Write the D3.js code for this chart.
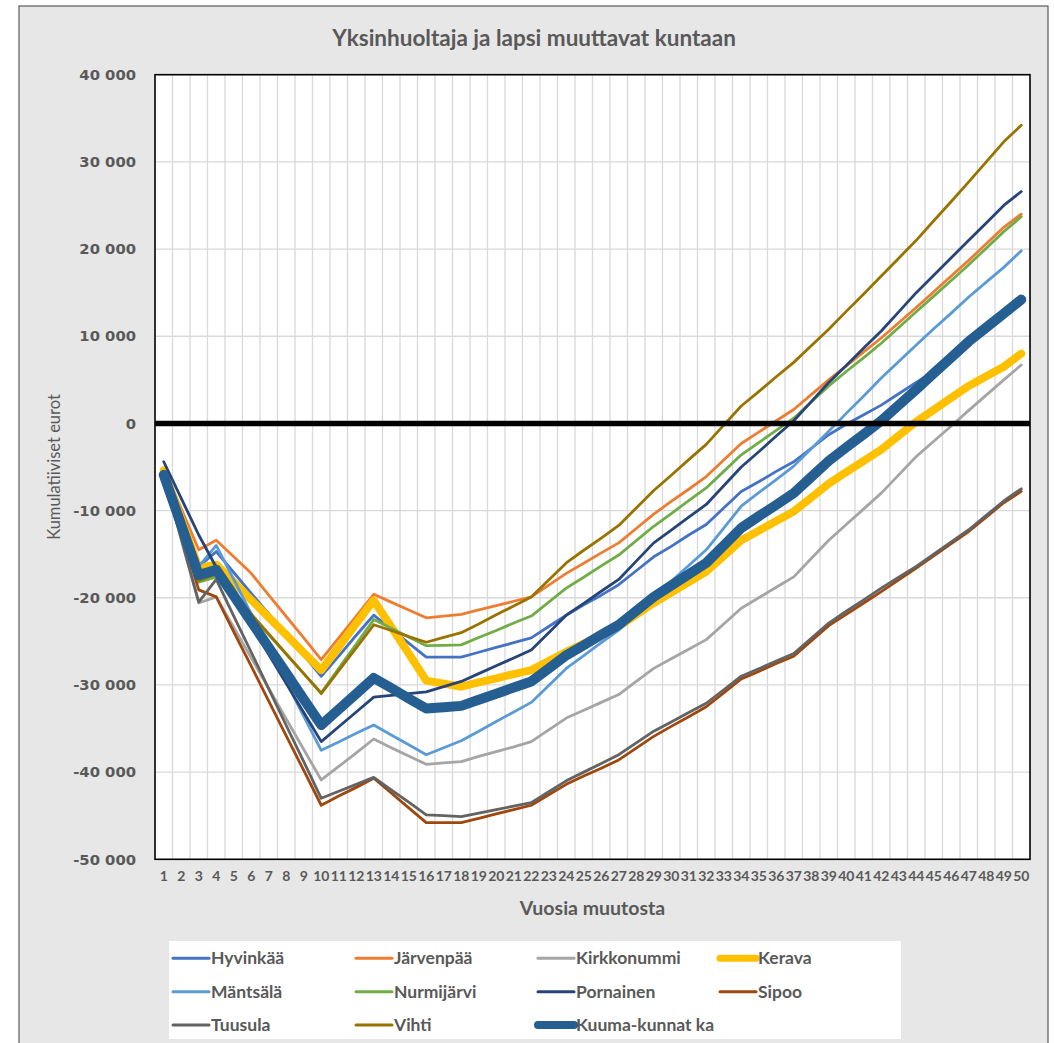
<!DOCTYPE html>
<html>
<head>
<meta charset="utf-8">
<script src="https://cdn.jsdelivr.net/npm/d3@7/dist/d3.min.js"></script>
<style>
  html, body { margin: 0; padding: 0; background: #ffffff; }
  svg { display: block; }
</style>
</head>
<body>
<svg id="chart" width="1054" height="1043"></svg>
<script>
// ---------------- DATA ----------------
const years = d3.range(1, 51);
const yTicks = [40000, 30000, 20000, 10000, 0, -10000, -20000, -30000, -40000, -50000];
const chartTitle = "Yksinhuoltaja ja lapsi muuttavat kuntaan";
const xTitle = "Vuosia muutosta";
const yTitle = "Kumulatiiviset eurot";

const seriesNames = ["Hyvinkää", "Järvenpää", "Kirkkonummi", "Kerava", "Mäntsälä", "Nurmijärvi", "Pornainen", "Sipoo", "Tuusula", "Vihti", "Kuuma-kunnat ka"];

const hyvinkaa = [-5800,-11100,-16400,-14700,-17100,-19500,-21850,-24200,-26600,-29000,
  -26700,-24300,-22000,-23600,-25200,-26800,-26800,-26800,-26250,-25700,
  -25150,-24600,-23300,-22000,-20800,-19700,-18500,-16900,-15300,-14100,
  -12800,-11600,-9700,-7800,-6700,-5500,-4400,-2850,-1300,-100,
  1000,2100,3400,4700,6000,7700,9400,11000,12600,14000];
const jarvenpaa = [-5100,-9800,-14500,-13400,-15300,-17200,-19700,-22150,-24600,-27100,
  -24600,-22100,-19600,-20500,-21400,-22300,-22100,-21900,-21400,-20900,
  -20400,-19900,-18550,-17200,-16050,-14850,-13700,-12050,-10400,-8950,
  -7550,-6100,-4200,-2300,-1000,300,1600,3300,5000,6600,
  8200,9800,11550,13300,15100,16900,18700,20600,22500,24000];
const kirkkonummi = [-6000,-13300,-20600,-19900,-23400,-26900,-30400,-33900,-37400,-40900,
  -39350,-37800,-36200,-37200,-38150,-39100,-38950,-38800,-38200,-37650,
  -37100,-36500,-35150,-33800,-32900,-32000,-31100,-29600,-28100,-27000,
  -25900,-24800,-23000,-21200,-20000,-18800,-17600,-15500,-13400,-11600,
  -9800,-8000,-5900,-3800,-2050,-300,1500,3250,5000,6700];
const kerava = [-5400,-11000,-16600,-16200,-18200,-20250,-22250,-24250,-26300,-28300,
  -25650,-22950,-20300,-23350,-26400,-29500,-29850,-30200,-29700,-29250,
  -28750,-28300,-27250,-26200,-25250,-24250,-23300,-21950,-20600,-19400,
  -18200,-17000,-15200,-13400,-12300,-11200,-10100,-8500,-6900,-5600,
  -4300,-3000,-1400,200,1550,2950,4300,5400,6500,8000];
const mantsala = [-6000,-11200,-16400,-14000,-17900,-21850,-25750,-29650,-33600,-37500,
  -36550,-35550,-34600,-35750,-36850,-38000,-37200,-36400,-35300,-34200,
  -33100,-32000,-30050,-28100,-26650,-25150,-23700,-21800,-19900,-18100,
  -16300,-14500,-12000,-9500,-7950,-6450,-4900,-2900,-900,1150,
  3150,5200,7100,9000,10850,12650,14500,16200,17900,19800];
const nurmijarvi = [-5800,-12000,-18200,-17600,-19800,-22050,-24250,-26450,-28700,-30900,
  -28100,-25300,-22500,-23500,-24500,-25500,-25450,-25400,-24550,-23750,
  -22900,-22100,-20500,-18900,-17650,-16350,-15100,-13450,-11800,-10350,
  -8850,-7400,-5500,-3600,-2200,-800,600,2450,4300,5950,
  7550,9200,11000,12800,14600,16400,18200,20100,22000,23700];
const pornainen = [-4400,-8600,-12800,-16500,-19850,-23150,-26500,-29850,-33150,-36500,
  -34800,-33100,-31400,-31200,-31000,-30800,-30200,-29600,-28700,-27800,
  -26900,-26000,-24000,-22000,-20650,-19250,-17900,-15800,-13700,-12250,
  -10750,-9300,-7150,-5000,-3250,-1450,300,2500,4700,6650,
  8650,10600,12800,15000,17000,19000,21000,23000,25000,26600];
const sipoo = [-6000,-12550,-19100,-19900,-23900,-27850,-31850,-35850,-39800,-43800,
  -42750,-41750,-40700,-42400,-44100,-45800,-45800,-45800,-45300,-44800,
  -44300,-43800,-42600,-41400,-40450,-39550,-38600,-37250,-35900,-34750,
  -33650,-32500,-30900,-29300,-28450,-27550,-26700,-24950,-23200,-21900,
  -20600,-19300,-17950,-16600,-15200,-13800,-12400,-10750,-9100,-7800];
const tuusula = [-6000,-13250,-20500,-17900,-22100,-26250,-30450,-34650,-38800,-43000,
  -42200,-41400,-40600,-42050,-43450,-44900,-45000,-45100,-44700,-44300,
  -43900,-43500,-42250,-41000,-40000,-39000,-38000,-36650,-35300,-34250,
  -33150,-32100,-30550,-29000,-28150,-27250,-26400,-24650,-22900,-21550,
  -20250,-18900,-17650,-16400,-15000,-13600,-12200,-10550,-8900,-7500];
const vihti = [-5800,-11900,-18000,-17300,-19600,-21850,-24150,-26450,-28700,-31000,
  -28350,-25750,-23100,-23750,-24450,-25100,-24550,-24000,-23000,-21950,
  -20950,-19900,-17950,-16000,-14550,-13150,-11700,-9700,-7700,-5950,
  -4150,-2400,-200,2000,3650,5350,7000,8900,10800,12850,
  14850,16900,18950,21000,23250,25450,27700,30000,32300,34200];
const kuuma = [-5900,-11650,-17400,-16800,-19750,-22750,-25700,-28650,-31650,-34600,
  -32800,-31000,-29200,-30350,-31550,-32700,-32550,-32400,-31700,-31000,
  -30300,-29600,-28100,-26600,-25450,-24250,-23100,-21500,-19900,-18600,
  -17300,-16000,-14000,-12000,-10650,-9350,-8000,-6150,-4300,-2750,
  -1250,300,2100,3900,5750,7550,9400,11000,12600,14200];

// ---------------- STYLE ----------------
const seriesValues = [hyvinkaa, jarvenpaa, kirkkonummi, kerava, mantsala, nurmijarvi, pornainen, sipoo, tuusula, vihti, kuuma];
const seriesColors = ["#4472C4", "#ED7D31", "#A5A5A5", "#FFC000", "#5B9BD5", "#70AD47", "#264478", "#9E480E", "#636363", "#997300", "#255E91"];
const seriesWidths = [2.8, 2.8, 2.8, 8, 2.8, 2.8, 2.8, 2.8, 2.8, 2.8, 10];
const legendWidths = [3, 3, 3, 7, 3, 3, 3, 3, 3, 3, 8];

const series = seriesNames.map((name, i) => ({
  name, values: seriesValues[i], color: seriesColors[i], width: seriesWidths[i], lw: legendWidths[i]
}));

const textColor = "#595959";
const fontMain = "Lato, 'Open Sans', sans-serif";
const svg = d3.select("#chart");

// outer chart area
svg.append("rect").attr("x", 19).attr("y", 6).attr("width", 1029).attr("height", 1050)
  .attr("fill", "#e7e7e7").attr("stroke", "#5a5a5a").attr("stroke-width", 1.2);

const plot = { left: 155, right: 1030, top: 74.7, bottom: 859.3 };

const x = d3.scaleBand().domain(years).range([plot.left, plot.right]).paddingInner(0).paddingOuter(0);
const y = d3.scaleLinear().domain([-50000, 40000]).range([plot.bottom, plot.top]);

// plot background
svg.append("rect").attr("x", plot.left).attr("y", plot.top)
  .attr("width", plot.right - plot.left).attr("height", plot.bottom - plot.top)
  .attr("fill", "#ffffff");

// vertical gridlines at category boundaries
svg.append("g").selectAll("line").data(years.slice(1)).join("line")
  .attr("x1", d => x(d)).attr("x2", d => x(d))
  .attr("y1", plot.top).attr("y2", plot.bottom)
  .attr("stroke", "#d9d9d9").attr("stroke-width", 1.3);

// horizontal gridlines
svg.append("g").selectAll("line").data(yTicks.filter(t => t !== 0 && t !== 40000 && t !== -50000)).join("line")
  .attr("x1", plot.left).attr("x2", plot.right)
  .attr("y1", d => y(d)).attr("y2", d => y(d))
  .attr("stroke", "#d9d9d9").attr("stroke-width", 1.3);

// lines
const line = d3.line()
  .x((d, i) => x(years[i]) + x.bandwidth() / 2)
  .y(d => y(d));

svg.append("g").selectAll("path").data(series).join("path")
  .attr("d", s => line(s.values))
  .attr("fill", "none")
  .attr("stroke", s => s.color)
  .attr("stroke-width", s => s.width)
  .attr("stroke-linejoin", "round")
  .attr("stroke-linecap", "round");

// zero line
svg.append("line")
  .attr("x1", plot.left).attr("x2", plot.right)
  .attr("y1", y(0)).attr("y2", y(0))
  .attr("stroke", "#000000").attr("stroke-width", 5.5);

// plot border
svg.append("rect").attr("x", plot.left).attr("y", plot.top)
  .attr("width", plot.right - plot.left).attr("height", plot.bottom - plot.top)
  .attr("fill", "none").attr("stroke", "#000000").attr("stroke-width", 1.6);

// y axis
const fiLocale = d3.formatLocale({ decimal: ",", thousands: " ", grouping: [3], currency: ["", " €"], minus: "-" });
const yFmt = fiLocale.format(",d");
const yAxis = d3.axisLeft(y).tickValues(yTicks).tickFormat(yFmt).tickSize(0).tickPadding(19);
const yG = svg.append("g").attr("transform", `translate(${plot.left},0)`).call(yAxis);
yG.select(".domain").remove();
yG.selectAll("text")
  .attr("font-family", "'DejaVu Sans', Verdana, sans-serif")
  .attr("font-weight", "bold").attr("font-size", "14.8px").attr("fill", textColor);

// x axis
const xAxis = d3.axisBottom(x).tickSize(0).tickPadding(12);
const xG = svg.append("g").attr("transform", `translate(0,${plot.bottom})`).call(xAxis);
xG.select(".domain").remove();
xG.selectAll("text")
  .attr("font-family", fontMain)
  .attr("font-weight", "bold").attr("font-size", "14px").attr("fill", textColor);

// titles
svg.append("text").attr("x", 534).attr("y", 46).attr("text-anchor", "middle")
  .attr("font-family", fontMain).attr("font-weight", "bold")
  .attr("font-size", "22.5px").attr("fill", textColor).text(chartTitle);

svg.append("text").attr("x", (plot.left + plot.right) / 2).attr("y", 915).attr("text-anchor", "middle")
  .attr("font-family", fontMain).attr("font-weight", "bold")
  .attr("font-size", "19.5px").attr("fill", textColor).text(xTitle);

svg.append("text")
  .attr("transform", `translate(60,${(plot.top + plot.bottom) / 2}) rotate(-90)`)
  .attr("text-anchor", "middle")
  .attr("font-family", fontMain)
  .attr("font-size", "16.5px").attr("fill", textColor).text(yTitle);

// legend
svg.append("rect").attr("x", 169).attr("y", 941).attr("width", 732).attr("height", 98).attr("fill", "#ffffff");
const legendCols = [173, 356, 538, 720];
const legendRows = [958.3, 991.7, 1025];
const lg = svg.append("g").selectAll("g").data(series).join("g")
  .attr("transform", (s, i) => `translate(${legendCols[i % 4]},${legendRows[Math.floor(i / 4)]})`);
lg.append("line").attr("x1", 0).attr("x2", 36).attr("y1", 0).attr("y2", 0)
  .attr("stroke", s => s.color).attr("stroke-width", s => s.lw).attr("stroke-linecap", "round");
lg.append("text").attr("x", 38).attr("y", 0).attr("dy", "0.35em")
  .attr("font-family", fontMain).attr("font-weight", "bold")
  .attr("font-size", "17.5px").attr("fill", textColor).text(s => s.name);
</script>
</body>
</html>
